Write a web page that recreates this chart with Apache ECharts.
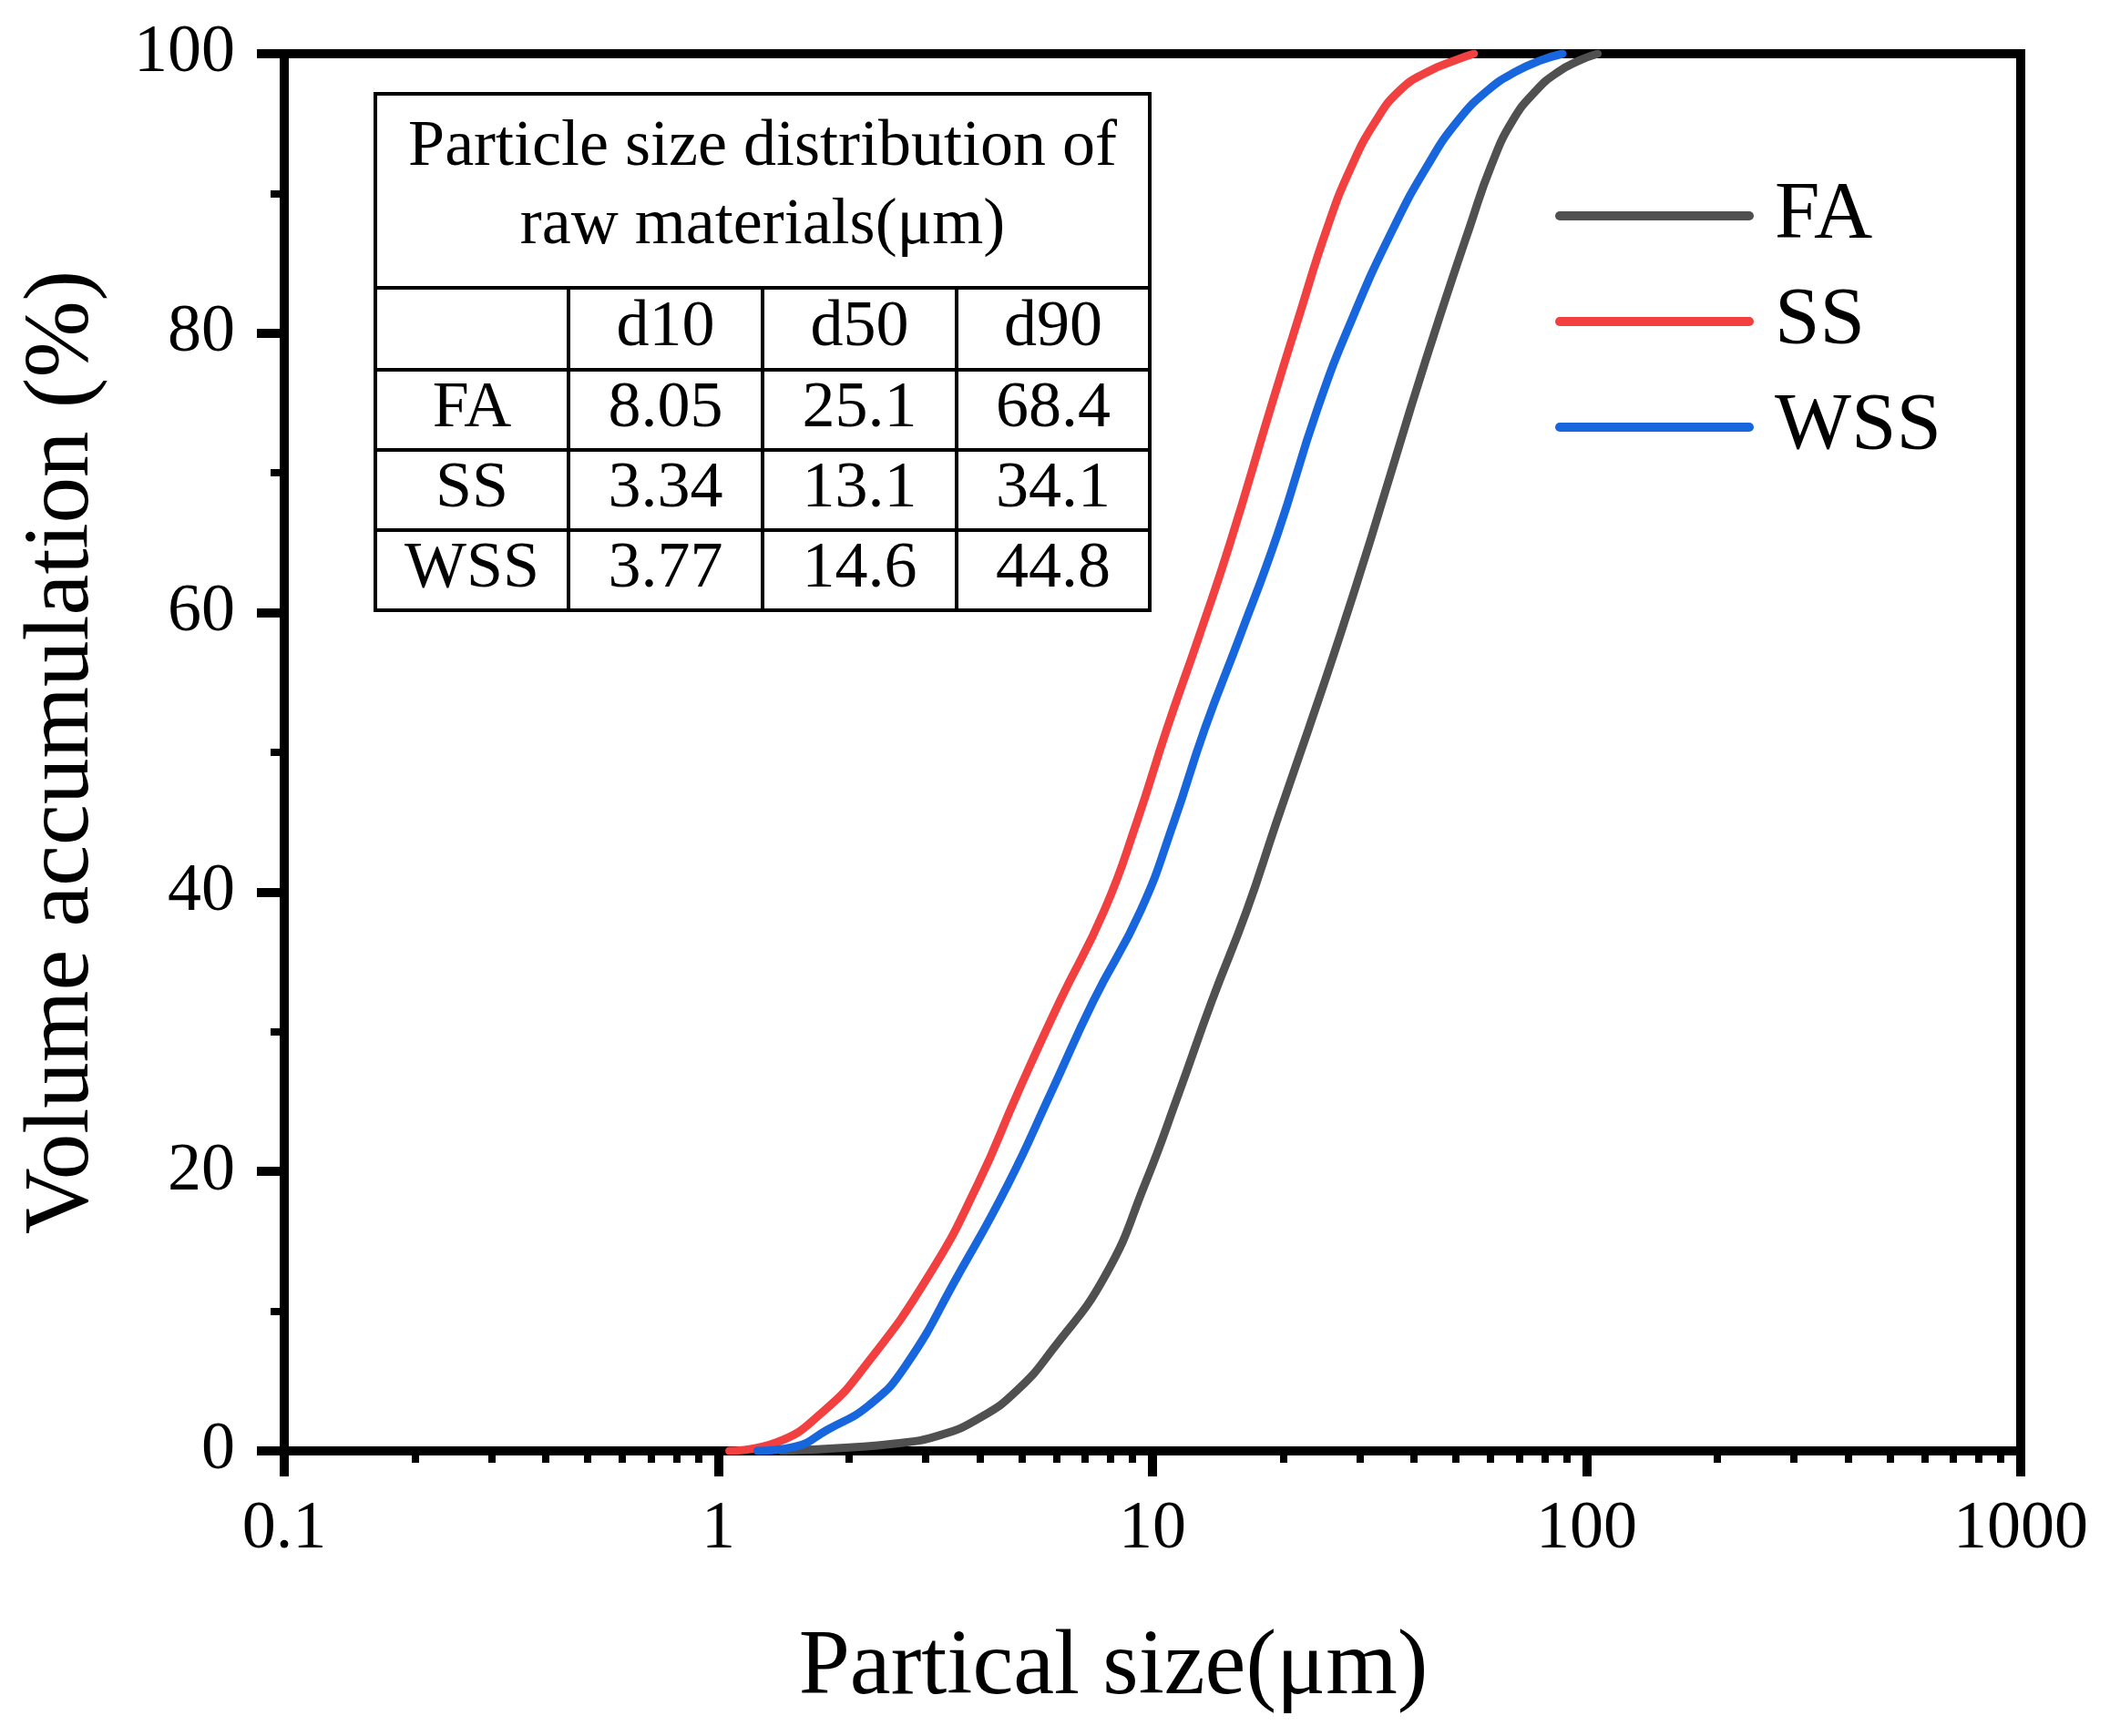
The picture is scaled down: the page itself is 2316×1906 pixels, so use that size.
<!DOCTYPE html>
<html>
<head>
<meta charset="utf-8">
<script src="https://cdn.jsdelivr.net/npm/echarts@6.0.0/dist/echarts.min.js"></script>
<style>
html,body{margin:0;padding:0;background:#fff;}
#chart{width:2316px;height:1906px;}
</style>
</head>
<body>
<div id="chart"></div>
<script>
// ---------- data ----------
const seriesNames = ['FA', 'SS', 'WSS'];
const seriesColors = ['#505050', '#f23f3f', '#1766de'];

const faSize = [1.4, 2.0, 2.52, 3.22, 4.02, 4.90, 5.9, 7.80, 9.61, 11.5, 13.7, 16.5, 19.3, 22.9, 27.0, 32.0, 39.3, 45.8, 53.8, 60.3, 67.5, 76.7, 86, 96, 106];
const faVol  = [0, 0.25, 0.5, 1.1, 2.4, 4.4, 7.3, 12.6, 19.1, 25.6, 32.2, 38.7, 45.0, 51.7, 58.3, 65.5, 74.6, 81.1, 87.6, 92.0, 95.2, 97.4, 98.7, 99.5, 100];

const ssSize = [1.06, 1.36, 1.74, 2.18, 3.06, 3.96, 4.89, 6.12, 7.75, 9.2, 10.8, 12.8, 15.1, 18.7, 21.7, 25.3, 28.6, 32.7, 37.2, 43.0, 50.5, 55];
const ssVol  = [0, 0.6, 2.8, 6.1, 12.6, 19.1, 25.6, 32.2, 38.7, 45.0, 51.7, 58.3, 65.0, 74.6, 81.1, 87.6, 91.8, 95.2, 97.4, 98.7, 99.6, 100];

const wssSize = [1.23, 1.50, 1.78, 2.23, 2.7, 3.57, 4.65, 5.83, 7.31, 9.4, 11.2, 13.2, 15.9, 19.4, 24.0, 28.9, 36.0, 43.0, 50.5, 59.3, 68.5, 78, 88];
const wssVol  = [0, 0.3, 1.5, 3.3, 6.1, 12.6, 19.1, 25.6, 32.2, 38.7, 45.0, 51.7, 58.3, 65.6, 74.6, 81.1, 87.6, 92.0, 95.2, 97.4, 98.7, 99.5, 100];

const xMajorTicks = [0.1, 1, 10, 100, 1000];
const xTickLabels = ['0.1', '1', '10', '100', '1000'];
const xMinorTicks = [0.2,0.3,0.4,0.5,0.6,0.7,0.8,0.9, 2,3,4,5,6,7,8,9, 20,30,40,50,60,70,80,90, 200,300,400,500,600,700,800,900];

const xAxisTitle = 'Partical size(μm)';
const yAxisTitle = 'Volume accumulation (%)';

const tableTitle = ['Particle size distribution of', 'raw materials(μm)'];
const tableColumns = ['', 'd10', 'd50', 'd90'];
const tableRows = ['FA', 'SS', 'WSS'];
const tableD10 = [8.05, 3.34, 3.77];
const tableD50 = [25.1, 13.1, 14.6];
const tableD90 = [68.4, 34.1, 44.8];

// ---------- build ----------
const FONT = '"Liberation Serif", "Times New Roman", serif';
function pairs(xs, ys) { return xs.map((x, i) => [x, ys[i]]); }
const seriesData = [pairs(faSize, faVol), pairs(ssSize, ssVol), pairs(wssSize, wssVol)];

// table graphic
const T = { left: 412, right: 1262, top: 103, headBottom: 316, bottom: 670,
            rowLines: [316, 406, 494, 582, 670], colLines: [412, 624, 837, 1050, 1262] };
const tableEls = [];
tableEls.push({ type: 'rect', shape: { x: T.left, y: T.top, width: T.right - T.left, height: T.bottom - T.top },
  style: { fill: '#fff', stroke: '#000', lineWidth: 4 } });
for (let i = 0; i < T.rowLines.length - 1; i++) {
  tableEls.push({ type: 'line', shape: { x1: T.left, y1: T.rowLines[i], x2: T.right, y2: T.rowLines[i] },
    style: { stroke: '#000', lineWidth: 4 } });
}
for (let j = 1; j < T.colLines.length - 1; j++) {
  tableEls.push({ type: 'line', shape: { x1: T.colLines[j], y1: T.headBottom, x2: T.colLines[j], y2: T.bottom },
    style: { stroke: '#000', lineWidth: 4 } });
}
function cellText(txt, x, y) {
  return { type: 'text', x: x, y: y,
    style: { text: txt, fill: '#000', fontSize: 72, fontFamily: FONT, align: 'center', verticalAlign: 'middle' } };
}
const headYs = [162, 248];
tableTitle.forEach((t, i) => tableEls.push(cellText(t, (T.left + T.right) / 2, headYs[i])));
const colC = [];
for (let j = 0; j < 4; j++) colC.push((T.colLines[j] + T.colLines[j + 1]) / 2);
const rowC = [];
for (let i = 0; i < 4; i++) rowC.push((T.rowLines[i] + T.rowLines[i + 1]) / 2 - 1);
tableColumns.forEach((c, j) => { if (c) tableEls.push(cellText(c, colC[j], rowC[0])); });
tableRows.forEach((r, i) => {
  tableEls.push(cellText(r, colC[0], rowC[i + 1]));
  tableEls.push(cellText(String(tableD10[i]), colC[1], rowC[i + 1]));
  tableEls.push(cellText(String(tableD50[i]), colC[2], rowC[i + 1]));
  tableEls.push(cellText(String(tableD90[i]), colC[3], rowC[i + 1]));
});

const chart = echarts.init(document.getElementById('chart'), null, { renderer: 'canvas' });
const option = {
  backgroundColor: '#fff',
  animation: false,
  textStyle: { fontFamily: FONT },
  grid: { left: 312, right: 98, top: 59, bottom: 313, show: true, borderColor: '#000', borderWidth: 10,
          backgroundColor: 'transparent', containLabel: false },
  legend: {
    orient: 'vertical', left: 1707, top: 192, padding: 0,
    itemWidth: 218, itemHeight: 10, itemGap: 26,
    icon: 'path://M5 0H213A5 5 0 0 1 213 10H5A5 5 0 0 1 5 0Z',
    textStyle: { fontSize: 89, lineHeight: 90, fontFamily: FONT, color: '#000', padding: [0, 0, 0, 18] },
    data: seriesNames
  },
  xAxis: [
    {
      type: 'log', logBase: 10, min: 0.1, max: 1000, position: 'bottom',
      axisLine: { show: true, lineStyle: { color: '#000', width: 10 } },
      axisTick: { show: true, length: 28, customValues: xMajorTicks, lineStyle: { color: '#000', width: 10 } },
      axisLabel: { show: true, margin: 50, fontSize: 74, color: '#000', fontFamily: FONT,
                   customValues: xMajorTicks,
                   formatter: function (v) { const k = xMajorTicks.findIndex(t => Math.abs(t - v) / t < 1e-6); return k >= 0 ? xTickLabels[k] : ''; } },
      splitLine: { show: false },
      name: xAxisTitle, nameLocation: 'middle', nameGap: 189,
      nameTextStyle: { fontSize: 101, color: '#000', fontFamily: FONT, padding: [0, 86, 0, 0] }
    },
    {
      type: 'log', logBase: 10, min: 0.1, max: 1000, position: 'bottom',
      axisLine: { show: false },
      axisTick: { show: true, length: 13, customValues: xMinorTicks, lineStyle: { color: '#000', width: 8 } },
      axisLabel: { show: false },
      splitLine: { show: false }
    }
  ],
  yAxis: [{
    type: 'value', min: 0, max: 100, interval: 20, position: 'left',
    axisLine: { show: true, lineStyle: { color: '#000', width: 10 } },
    axisTick: { show: true, length: 30, lineStyle: { color: '#000', width: 10 } },
    minorTick: { show: true, splitNumber: 2, length: 15, lineStyle: { color: '#000', width: 8 } },
    axisLabel: { margin: 54, fontSize: 74, color: '#000', fontFamily: FONT },
    splitLine: { show: false },
    name: yAxisTitle, nameLocation: 'middle', nameGap: 192,
    nameTextStyle: { fontSize: 101, color: '#000', fontFamily: FONT }
  }],
  series: seriesNames.map((n, i) => ({
    name: n, type: 'line', xAxisIndex: 0, yAxisIndex: 0,
    data: seriesData[i], showSymbol: false, symbol: 'none',
    smooth: 0.5,
    lineStyle: { color: seriesColors[i], width: 9, cap: 'round', join: 'round' },
    itemStyle: { color: seriesColors[i] },
    z: 3
  })),
  graphic: [{ type: 'group', z: 10, children: tableEls }]
};
chart.setOption(option);
</script>
</body>
</html>
